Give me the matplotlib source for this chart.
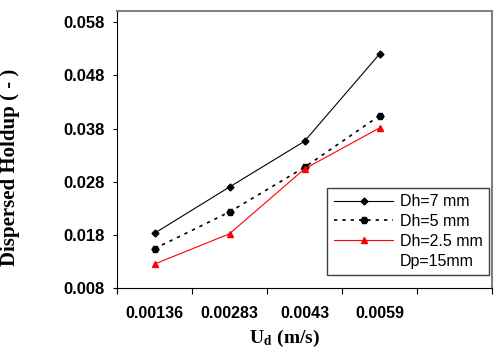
import numpy as np
import matplotlib.pyplot as plt
from matplotlib.lines import Line2D

plt.rcParams['mathtext.fontset'] = 'stix'

ud_labels = ["0.00136", "0.00283", "0.0043", "0.0059"]
holdup_dh7 = [0.0183, 0.0270, 0.0356, 0.0520]
holdup_dh5 = [0.0154, 0.0223, 0.0307, 0.0404]
holdup_dh25 = [0.0125, 0.0182, 0.0304, 0.0381]
yticks = [0.008, 0.018, 0.028, 0.038, 0.048, 0.058]

xpos = np.arange(len(ud_labels)) + 0.5

fig = plt.figure(figsize=(5, 3.56), dpi=100)
ax = fig.add_axes([0.234, 0.191, 0.750, 0.778])

ax.plot(xpos, holdup_dh7, '-', color='black', lw=0.8, marker='D', ms=3.5, label="Dh=7 mm")
ax.plot(xpos, holdup_dh5, color='black', lw=1.2, ls=(0, (2, 3)), marker='H', ms=5, label="Dh=5 mm")
ax.plot(xpos, holdup_dh25, '-', color='red', lw=0.8, marker='^', ms=5, label="Dh=2.5 mm")

ax.set_xlim(0, 5)
ax.set_ylim(0.008, 0.0601)
ax.set_xticks(np.arange(6))
ax.set_xticklabels([])
ax.set_xticks(xpos, minor=True)
ax.set_xticklabels(ud_labels, minor=True, fontsize=11.5, fontweight='bold', family='Liberation Sans')
ax.tick_params(axis='x', which='minor', length=0, pad=13)
ax.tick_params(axis='x', which='major', direction='out', length=4)
ax.set_yticks(yticks)
ax.set_yticklabels(["%.3f" % v for v in yticks], fontsize=12, fontweight='bold', family='Liberation Sans')
ax.tick_params(axis='y', direction='out', length=3, pad=6)

for s in ['top', 'right']:
    ax.spines[s].set_color('#808080')
    ax.spines[s].set_linewidth(1.5)

ax.set_xlabel("U$_\\mathbf{d}$ (m/s)", fontsize=14, fontweight='bold', family='Liberation Serif')
ax.xaxis.set_label_coords(0.448, -0.144)
ax.set_ylabel("Dispersed Holdup ( - )", fontsize=15, fontweight='bold', family='Liberation Serif')
ax.yaxis.set_label_coords(-0.259, 0.435)

handles, labels = ax.get_legend_handles_labels()
handles.append(Line2D([], [], color='none'))
labels.append("Dp=15mm")
leg = ax.legend(handles, labels, loc='lower right', bbox_to_anchor=(0.992, 0.047), borderaxespad=0,
                fancybox=False, edgecolor='#404040', framealpha=1, handlelength=3.75,
                prop={'family': 'Liberation Sans', 'size': 11.5}, labelspacing=0.3, handletextpad=0.4)
leg.get_frame().set_linewidth(1.0)

fig.savefig("out.png", dpi=100)
